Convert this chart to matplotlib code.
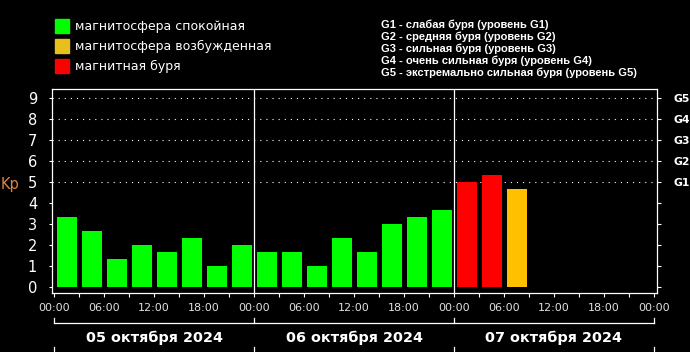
import matplotlib
matplotlib.use("Agg")
import matplotlib.pyplot as plt
import matplotlib.transforms as mtransforms
from matplotlib.patches import Rectangle

# ---- data ----
kp_values = [3.33, 2.67, 1.33, 2.0, 1.67, 2.33, 1.0, 2.0,
             1.67, 1.67, 1.0, 2.33, 1.67, 3.0, 3.33, 3.67,
             5.0, 5.33, 4.67]
interval_hours = 3
day_labels = ["05 октября 2024", "06 октября 2024", "07 октября 2024"]
hour_labels = ["00:00", "06:00", "12:00", "18:00"]
y_ticks = list(range(10))
g_labels = ["G1", "G2", "G3", "G4", "G5"]
legend_left = ["магнитосфера спокойная", "магнитосфера возбужденная", "магнитная буря"]
legend_right = ["G1 - слабая буря (уровень G1)",
                "G2 - средняя буря (уровень G2)",
                "G3 - сильная буря (уровень G3)",
                "G4 - очень сильная буря (уровень G4)",
                "G5 - экстремально сильная буря (уровень G5)"]

GREEN = "#00ff00"
YELLOW = "#ffc000"
RED = "#ff0000"
LEG_YELLOW = "#e8c01c"

def bar_color(v):
    if v >= 5:
        return RED
    if v >= 4:
        return YELLOW
    return GREEN

W, H = 690, 352
fig = plt.figure(figsize=(W / 100, H / 100), dpi=100, facecolor="black")

def fx(px):
    return px / W

def fy(py):
    return 1 - py / H

ax = fig.add_axes([fx(51.7), fy(293), fx(657.3) - fx(51.7), fy(89) - fy(293)])
ax.set_facecolor("black")

n_days = len(day_labels)
total_hours = 24 * n_days
ax.set_xlim(-0.28, total_hours + 0.4)
ax.set_ylim(-0.27, 9.44)

lefts = [i * interval_hours + 0.4 for i in range(len(kp_values))]
ax.bar(lefts, kp_values, width=2.33, align="edge",
       color=[bar_color(v) for v in kp_values], zorder=2)

# dotted grid for storm levels
for lvl in range(5, 10):
    ax.axhline(lvl, color="white", lw=0.8, linestyle=(0, (1, 4.5)), zorder=1)

# day separators
for d in range(1, n_days):
    ax.axvline(24 * d, color="white", lw=0.9, zorder=3)

for s in ax.spines.values():
    s.set_color("white")
    s.set_linewidth(0.9)

# y ticks (left)
ax.set_yticks(y_ticks)
ax.set_yticklabels([str(t) for t in y_ticks])
ax.tick_params(axis="y", colors="white", labelsize=10.5, length=2.5, width=0.8,
               pad=8, labelcolor="white")

# x ticks
major = [h for h in range(0, total_hours + 1, 6)]
minor = [h for h in range(0, total_hours + 1, 3)]
ax.set_xticks(major)
ax.set_xticklabels([hour_labels[(h % 24) // 6] for h in major])
ax.set_xticks(minor, minor=True)
ax.tick_params(axis="x", which="both", colors="white", length=3, width=0.8,
               labelsize=8, pad=4, labelcolor="#e0e0e0")

# right G axis
ax2 = ax.twinx()
ax2.set_ylim(ax.get_ylim())
ax2.set_yticks(y_ticks)
ax2.set_yticklabels([""] * 5 + g_labels)
ax2.tick_params(axis="y", colors="white", length=3, width=0.8, labelsize=7.8,
                pad=9, labelcolor="white")
for lbl in ax2.get_yticklabels():
    lbl.set_fontweight("bold")
for s in ax2.spines.values():
    s.set_visible(False)

# day bracket under the axis
tr = mtransforms.blended_transform_factory(ax.transData, ax.transAxes)
ax.plot([0, total_hours], [-0.1485, -0.1485], color="white", lw=0.9,
        transform=tr, clip_on=False)
for d in range(n_days + 1):
    ax.plot([24 * d, 24 * d], [-0.1225, -0.1485], color="white", lw=0.9,
            transform=tr, clip_on=False)
    ax.plot([24 * d, 24 * d], [-0.265, -0.30], color="white", lw=0.9,
            transform=tr, clip_on=False)
for d, lab in enumerate(day_labels):
    ax.text(24 * d + 12, -0.222, lab, transform=tr, ha="center", va="center",
            color="white", fontsize=10.4, fontweight="bold")

# Kp label
fig.text(fx(0.5), fy(184), "Kp", color="#e0823c", fontsize=10.5, ha="left", va="center")

# left legend
leg_colors = [GREEN, LEG_YELLOW, RED]
for i, (lab, c) in enumerate(zip(legend_left, leg_colors)):
    top = 19.3 + 20 * i
    fig.patches.append(Rectangle((fx(55), fy(top + 14)), fx(14), fy(top) - fy(top + 14),
                                 transform=fig.transFigure, color=c, figure=fig))
    fig.text(fx(75), fy(top + 7), lab, color="white", fontsize=9.0,
             ha="left", va="center")

# right legend
for i, lab in enumerate(legend_right):
    fig.text(fx(381), fy(25 + 12 * i), lab, color="white", fontsize=8.0,
             family=["Liberation Sans", "DejaVu Sans"], fontweight="bold",
             ha="left", va="center")

fig.savefig("out.png", dpi=100, facecolor="black")
